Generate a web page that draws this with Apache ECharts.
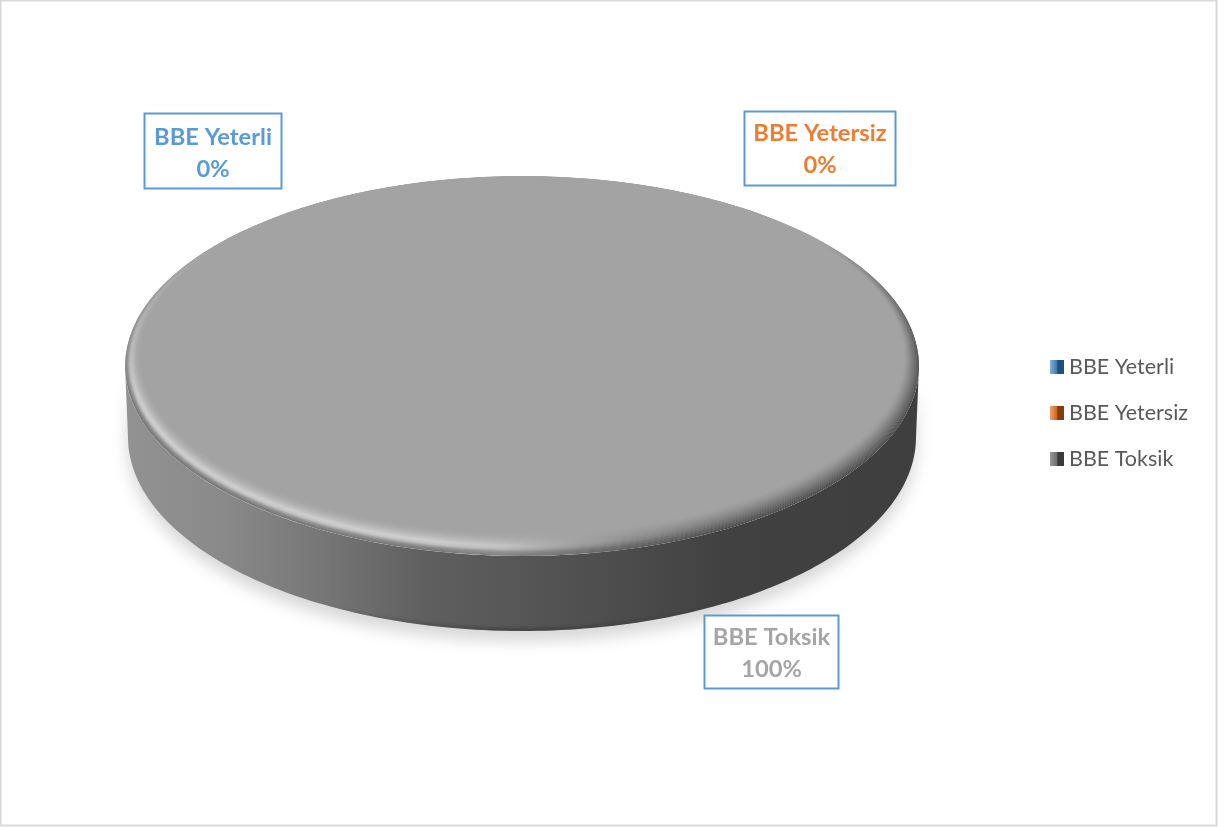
<!DOCTYPE html>
<html>
<head>
<meta charset="utf-8">
<style>html,body{margin:0;padding:0;background:#fff}#c{width:1230px;height:827px}</style>
<script src="https://cdn.jsdelivr.net/npm/echarts@6/dist/echarts.min.js"></script>
</head>
<body>
<div id="c"></div>
<script>
// Data
const categories = ['BBE Yeterli', 'BBE Yetersiz', 'BBE Toksik'];
const seriesValues = [0, 0, 100];

// Style and layout
const sliceColors = ['#5b9bd5', '#ed7d31', '#a3a3a3'];
const labelColors = ['#5b9bd5', '#ed7d31', '#a5a5a5'];
const labelBoxes = [
  {x: 144.5, y: 113.5, w: 137, h: 75, dy: 2},
  {x: 744.5, y: 111.5, w: 151, h: 74, dy: 1},
  {x: 704.5, y: 615.5, w: 134, h: 73, dy: 1}
];
const legendSwatches = [
  ['#7fb2e0', '#3f79b0', '#1f4e79'],
  ['#f3a26b', '#c9641f', '#843c0c'],
  ['#9a9a9a', '#6e6e6e', '#3a3a3a']
];
const disc = {cx: 522, cy: 366, rx: 397, ry: 190, baseCy: 437, baseRx: 394, baseRy: 194};
const bevel = {layers: 24, side: 15, bottom: 23, top: 3};
const total = seriesValues.reduce((a, b) => a + b, 0);
const START = -Math.PI / 2;

function sliceAngles(idx) {
  const before = seriesValues.slice(0, idx).reduce((a, b) => a + b, 0);
  return [START + before / total * 2 * Math.PI, START + (before + seriesValues[idx]) / total * 2 * Math.PI];
}

function arcPoints(cx, cy, rx, ry, a0, a1, n) {
  const pts = [];
  for (let i = 0; i <= n; i++) {
    const t = a0 + (a1 - a0) * i / n;
    pts.push([cx + rx * Math.cos(t), cy + ry * Math.sin(t)]);
  }
  return pts;
}

function wallPoints(a0, a1) {
  return arcPoints(disc.cx, disc.cy, disc.rx, disc.ry, a0, a1, 160)
    .concat(arcPoints(disc.cx, disc.baseCy, disc.baseRx, disc.baseRy, a1, a0, 160));
}

// grey level of the lit part of the bevel at depth u (0 = rim edge, 1 = flat top)
function litLevel(u) {
  const knots = [[0, 118], [.14, 140], [.3, 196], [.42, 206], [.6, 186], [.8, 170], [1, 163]];
  for (let i = 1; i < knots.length; i++) {
    if (u <= knots[i][0]) {
      const f = (u - knots[i - 1][0]) / (knots[i][0] - knots[i - 1][0]);
      return knots[i - 1][1] + (knots[i][1] - knots[i - 1][1]) * f;
    }
  }
  return 163;
}
function grey(v) { v = Math.round(v); return `rgb(${v},${v},${v})`; }

function renderSlice(idx) {
  return function (params, api) {
    const value = api.value(0);
    const children = [];
    const [a0, a1] = sliceAngles(idx);
    if (value > 0) {
      [0, 2 * Math.PI].forEach(shift => {
        const w0 = Math.max(a0, shift), w1 = Math.min(a1, Math.PI + shift);
        if (w1 > w0) {
          children.push({
            type: 'polygon', shape: {points: wallPoints(w0, w1)},
            style: {
              fill: {type: 'linear', x: disc.cx - disc.rx, y: 0, x2: disc.cx + disc.rx, y2: 0, global: true,
                colorStops: [
                  {offset: 0, color: '#929292'}, {offset: 0.12, color: '#8a8a8a'},
                  {offset: 0.25, color: '#767676'}, {offset: 0.38, color: '#5f5f5f'},
                  {offset: 0.5, color: '#565656'}, {offset: 0.65, color: '#4a4a4a'},
                  {offset: 0.75, color: '#414141'}, {offset: 1, color: '#3f3f3f'}]},
              shadowColor: 'rgba(0,0,0,0.16)', shadowBlur: 16, shadowOffsetY: 10
            }
          });
          // darker lip along the lower edge of the wall
          [[1, .4], [2.5, .25], [4, .12]].forEach(([inset, alpha]) => {
            children.push({
              type: 'polyline',
              shape: {points: arcPoints(disc.cx, disc.baseCy, disc.baseRx - inset, disc.baseRy - inset, w0, w1, 160)},
              style: {fill: null, lineWidth: 1.6, stroke: {
                type: 'linear', x: 0, y: 0, x2: 1, y2: 0,
                colorStops: [
                  {offset: 0, color: 'rgba(40,40,40,0)'}, {offset: .25, color: 'rgba(40,40,40,0)'},
                  {offset: .5, color: `rgba(40,40,40,${alpha})`}, {offset: .75, color: 'rgba(40,40,40,0)'},
                  {offset: 1, color: 'rgba(40,40,40,0)'}]}}
            });
          });
        }
      });
      // top face: nested ellipses from the rim inwards give a soft bevel
      for (let i = 0; i <= bevel.layers; i++) {
        const u = i / bevel.layers;
        const r = disc.rx - bevel.side * u;
        const dBottom = bevel.bottom * u, dTop = bevel.top * u;
        const ry = disc.ry - (dBottom + dTop) / 2;
        const place = {x: disc.cx, y: disc.cy + (dTop - dBottom) / 2, scaleX: 1, scaleY: ry / r};
        const shape = {cx: 0, cy: 0, r, r0: 0, startAngle: a0, endAngle: a1, clockwise: true};
        if (i === bevel.layers) {
          children.push({type: 'sector', ...place, shape, style: {fill: sliceColors[idx]}});
          break;
        }
        const lit = litLevel(u);
        children.push({
          type: 'sector', ...place, shape,
          style: {fill: {type: 'linear', x: 0, y: 1, x2: 1, y2: 0, colorStops: [
            {offset: 0, color: grey(lit)}, {offset: .2, color: grey(lit)},
            {offset: .27, color: grey(lit * .55 + 163 * .45)}, {offset: .36, color: grey(lit * .2 + 163 * .8)},
            {offset: .46, color: grey(163)}, {offset: 1, color: grey(163)}]}}
        });
        const d = Math.pow(1 - u, 1.5);
        children.push({
          type: 'sector', ...place, shape,
          style: {fill: {type: 'linear', x: 0, y: 0, x2: 1, y2: .5, colorStops: [
            {offset: 0, color: 'rgba(66,66,66,0)'}, {offset: .78, color: 'rgba(66,66,66,0)'},
            {offset: .9, color: `rgba(66,66,66,${d * .7})`}, {offset: .98, color: `rgba(66,66,66,${d})`},
            {offset: 1, color: `rgba(66,66,66,${d})`}]}}
        });
      }
    }
    // boxed data label
    const box = labelBoxes[idx];
    children.push({
      type: 'rect', z2: 20,
      shape: {x: box.x, y: box.y, width: box.w, height: box.h},
      style: {fill: '#fff', stroke: '#5b9bd5', lineWidth: 2}
    });
    children.push({
      type: 'text', z2: 21,
      x: box.x + box.w / 2, y: box.y + box.h / 2 + box.dy,
      style: {
        text: categories[idx] + '\n' + Math.round(value / total * 100) + '%',
        fill: labelColors[idx], font: 'bold 23.7px Lato, "Open Sans", sans-serif',
        lineHeight: 32, align: 'center', verticalAlign: 'middle'
      }
    });
    return {type: 'group', children};
  };
}

const chart = echarts.init(document.getElementById('c'), null, {renderer: 'canvas'});
chart.setOption({
  animation: false,
  backgroundColor: '#fff',
  graphic: [{
    type: 'rect', silent: true, z: -1,
    shape: {x: 0.5, y: 0.5, width: 1216, height: 825},
    style: {fill: null, stroke: '#d9d9d9', lineWidth: 2}
  }],
  legend: {
    orient: 'vertical', left: 1045, top: 351, itemWidth: 14, itemHeight: 14, itemGap: 24,
    icon: 'rect', selectedMode: false,
    textStyle: {color: '#595959', fontSize: 21.5, fontFamily: 'Lato, "Open Sans", sans-serif'},
    data: categories.map((name, i) => ({
      name,
      itemStyle: {color: {type: 'linear', x: 0, y: 0, x2: 1, y2: 0, colorStops: [
        {offset: 0, color: legendSwatches[i][0]}, {offset: 0.5, color: legendSwatches[i][1]},
        {offset: 0.55, color: legendSwatches[i][2]}, {offset: 1, color: legendSwatches[i][2]}]}}
    }))
  },
  series: categories.map((name, i) => ({
    type: 'custom', name, coordinateSystem: 'none', silent: true,
    itemStyle: {color: sliceColors[i]},
    data: [[seriesValues[i]]],
    renderItem: renderSlice(i)
  }))
});
</script>
</body>
</html>
